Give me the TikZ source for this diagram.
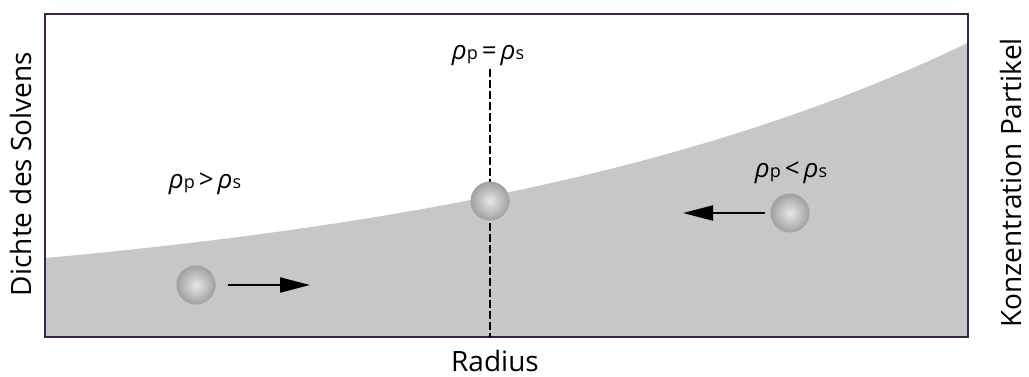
\documentclass[tikz,border=0pt]{standalone}
\usepackage{fontspec}
\setmainfont{Open Sans}
\usetikzlibrary{arrows.meta,positioning}
\definecolor{rahmenlila}{HTML}{3D2444}
\definecolor{solvgrau}{HTML}{C6C7C9}
\definecolor{kugelrand}{HTML}{A0A0A0}
\definecolor{kugelmitte}{HTML}{E6E6E6}
\newcommand{\dichtep}{\textit{ρ}{\small p}}
\newcommand{\dichtes}{\textit{ρ}{\small s}}

\begin{document}
\begin{tikzpicture}[x=0.5pt,y=-0.5pt,>={Triangle[length=15pt,width=7.5pt]},
  every node/.style={font=\fontsize{14}{16}\selectfont},
  kugel/.style={circle,minimum size=19.5pt,inner sep=0pt,inner color=kugelmitte,outer color=kugelrand},
  pfeil/.style={->,line width=1pt},
  strich/.style={line width=1.1pt,dash pattern=on 4pt off 1.5pt},
  lbl/.style={inner sep=1pt,font=\fontsize{13}{15}\selectfont}]
\useasboundingbox (0,0) rectangle (1029,376);
\fill[solvgrau] (45,337) -- plot[domain=45:968,samples=80] (\x,{258-50.4*(exp(0.0018*(\x-45))-1)}) -- (968,337) -- cycle;
\draw[rahmenlila,line width=1pt] (45,14) rectangle (968,337);
\node[lbl] (gleich) at (488,56) {\dichtep\kern2pt=\kern2pt\dichtes};
\node[lbl] (groesser) at (205,184) {\dichtep\kern2pt>\kern2pt\dichtes};
\node[lbl] (kleiner) at (791,173) {\dichtep\kern2pt<\kern2pt\dichtes};
\coordinate (boden) at (490,337);
\draw[strich] (gleich.south -| boden) -- (boden);
\node[kugel] (kugelL) at (196,285) {};
\node[kugel] (kugelM) at (490,201) {};
\node[kugel] (kugelR) at (790,213) {};
\coordinate (zielL) at (310,285);
\coordinate (zielR) at (683,213);
\draw[pfeil] ([xshift=6pt]kugelL.east) -- (zielL);
\draw[pfeil] ([xshift=-2.5pt]kugelR.west) -- (zielR);
\node[rotate=90] (dichte) at (21,174) {Dichte des Solvens};
\node[rotate=90] (konz) at (1011,183) {Konzentration Partikel};
\node (radius) at (495,361) {Radius};
\end{tikzpicture}
\end{document}
